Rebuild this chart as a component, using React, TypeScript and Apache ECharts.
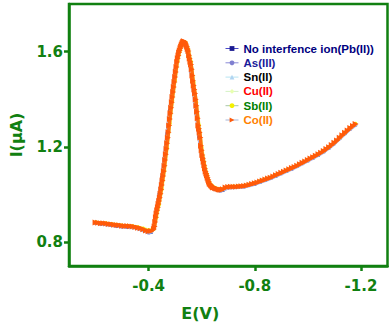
import React, { useEffect, useRef } from "react";
import * as echarts from "echarts";

// Co(II) trace: potentials (V) and currents (µA), denser around the peak
const coPotentials = [
  -0.2, -0.21, -0.22, -0.23, -0.24, -0.25, -0.26, -0.27, -0.28, -0.29,
  -0.3, -0.31, -0.32, -0.33, -0.34, -0.35, -0.36, -0.37, -0.38, -0.39,
  -0.4, -0.41, -0.42, -0.4225, -0.425, -0.4275, -0.43, -0.4325, -0.435, -0.4375,
  -0.44, -0.4425, -0.445, -0.4475, -0.45, -0.4525, -0.455, -0.4575, -0.46, -0.4625,
  -0.465, -0.4675, -0.47, -0.4725, -0.475, -0.4775, -0.48, -0.4825, -0.485, -0.4875,
  -0.49, -0.4925, -0.495, -0.4975, -0.5, -0.5025, -0.505, -0.5075, -0.51, -0.5125,
  -0.515, -0.5175, -0.52, -0.5225, -0.525, -0.5275, -0.53, -0.5325, -0.535, -0.5375,
  -0.54, -0.5425, -0.545, -0.5475, -0.55, -0.5525, -0.555, -0.5575, -0.56, -0.5625,
  -0.565, -0.5675, -0.57, -0.5725, -0.575, -0.5775, -0.58, -0.5825, -0.585, -0.5875,
  -0.59, -0.5925, -0.595, -0.5975, -0.6, -0.6025, -0.605, -0.6075, -0.61, -0.6125,
  -0.615, -0.6175, -0.62, -0.6225, -0.625, -0.6275, -0.63, -0.6325, -0.635, -0.6375,
  -0.64, -0.6425, -0.645, -0.65, -0.655, -0.66, -0.665, -0.67, -0.675, -0.68,
  -0.69, -0.7, -0.71, -0.72, -0.73, -0.74, -0.75, -0.76, -0.77, -0.78,
  -0.79, -0.8, -0.81, -0.82, -0.83, -0.84, -0.85, -0.86, -0.87, -0.88,
  -0.89, -0.9, -0.91, -0.92, -0.93, -0.94, -0.95, -0.96, -0.97, -0.98,
  -0.99, -1.0, -1.01, -1.02, -1.03, -1.04, -1.05, -1.06, -1.07, -1.08,
  -1.09, -1.1, -1.11, -1.12, -1.13, -1.14, -1.15, -1.16, -1.17, -1.18,
];

const coValues = [
  0.883, 0.882, 0.88, 0.879, 0.878, 0.876, 0.875, 0.873, 0.872, 0.871,
  0.869, 0.868, 0.868, 0.867, 0.866, 0.864, 0.861, 0.858, 0.854, 0.849,
  0.846, 0.847, 0.855, 0.866, 0.885, 0.905, 0.92, 0.934, 0.947, 0.96,
  0.973, 0.987, 1.003, 1.021, 1.04, 1.059, 1.078, 1.098, 1.121, 1.145,
  1.169, 1.192, 1.215, 1.238, 1.262, 1.29, 1.317, 1.341, 1.364, 1.387,
  1.41, 1.431, 1.452, 1.473, 1.494, 1.515, 1.536, 1.557, 1.572, 1.584,
  1.596, 1.605, 1.614, 1.622, 1.629, 1.635, 1.64, 1.644, 1.643, 1.64,
  1.635, 1.628, 1.62, 1.611, 1.603, 1.585, 1.571, 1.558, 1.546, 1.526,
  1.5, 1.478, 1.458, 1.441, 1.424, 1.399, 1.373, 1.348, 1.32, 1.29,
  1.276, 1.261, 1.24, 1.205, 1.186, 1.166, 1.152, 1.138, 1.123, 1.109,
  1.097, 1.088, 1.08, 1.071, 1.062, 1.054, 1.046, 1.043, 1.04, 1.037,
  1.034, 1.031, 1.03, 1.028, 1.025, 1.023, 1.021, 1.02, 1.02, 1.022,
  1.03, 1.032, 1.033, 1.033, 1.033, 1.034, 1.035, 1.036, 1.038, 1.041,
  1.044, 1.047, 1.051, 1.055, 1.059, 1.063, 1.067, 1.071, 1.076, 1.081,
  1.086, 1.091, 1.096, 1.101, 1.106, 1.111, 1.116, 1.121, 1.127, 1.133,
  1.139, 1.145, 1.151, 1.157, 1.163, 1.169, 1.176, 1.183, 1.191, 1.199,
  1.208, 1.217, 1.227, 1.238, 1.249, 1.259, 1.269, 1.279, 1.288, 1.296,
];

// Other traces: shared potentials (V)
const potentials = [
  -0.2, -0.22, -0.24, -0.26, -0.28, -0.3, -0.32, -0.34, -0.36, -0.38, -0.4,
  -0.41, -0.42, -0.43, -0.44, -0.45, -0.46, -0.47, -0.48, -0.49, -0.5,
  -0.51, -0.52, -0.53, -0.54, -0.55, -0.56, -0.57, -0.58, -0.59, -0.6,
  -0.61, -0.62, -0.63, -0.64, -0.65, -0.66, -0.67, -0.68,
  -0.7, -0.72, -0.74, -0.76, -0.78, -0.8, -0.82, -0.84, -0.86, -0.88,
  -0.9, -0.92, -0.94, -0.96, -0.98, -1.0, -1.02, -1.04, -1.06, -1.08,
  -1.1, -1.12, -1.14, -1.16, -1.18,
];

const pbValues = [
  0.88, 0.877, 0.874, 0.871, 0.868, 0.865, 0.864, 0.862, 0.857, 0.849, 0.84,
  0.842, 0.858, 0.94, 1.0, 1.072, 1.158, 1.255, 1.352, 1.44, 1.522,
  1.59, 1.626, 1.642, 1.626, 1.585, 1.518, 1.428, 1.338, 1.242, 1.158,
  1.105, 1.066, 1.038, 1.028, 1.022, 1.018, 1.016, 1.018,
  1.029, 1.03, 1.031, 1.033, 1.038, 1.044, 1.052, 1.06, 1.068, 1.078,
  1.088, 1.098, 1.108, 1.118, 1.13, 1.142, 1.154, 1.166, 1.18, 1.196,
  1.214, 1.235, 1.256, 1.276, 1.293,
];

const asValues = [
  0.881, 0.878, 0.875, 0.872, 0.869, 0.866, 0.865, 0.863, 0.858, 0.85, 0.842,
  0.844, 0.857, 0.933, 0.991, 1.061, 1.146, 1.242, 1.34, 1.43, 1.513,
  1.584, 1.622, 1.641, 1.629, 1.591, 1.527, 1.438, 1.35, 1.253, 1.167,
  1.111, 1.071, 1.041, 1.03, 1.024, 1.02, 1.018, 1.02,
  1.03, 1.031, 1.032, 1.034, 1.039, 1.045, 1.053, 1.061, 1.069, 1.079,
  1.089, 1.099, 1.109, 1.119, 1.131, 1.143, 1.155, 1.167, 1.181, 1.197,
  1.215, 1.236, 1.257, 1.277, 1.294,
];

const snValues = [
  0.882, 0.879, 0.877, 0.874, 0.871, 0.868, 0.867, 0.865, 0.86, 0.852, 0.844,
  0.845, 0.856, 0.927, 0.982, 1.051, 1.134, 1.228, 1.328, 1.42, 1.503,
  1.578, 1.618, 1.64, 1.632, 1.597, 1.537, 1.448, 1.362, 1.265, 1.177,
  1.117, 1.076, 1.044, 1.032, 1.026, 1.022, 1.019, 1.021,
  1.031, 1.032, 1.033, 1.035, 1.04, 1.046, 1.054, 1.062, 1.07, 1.08,
  1.09, 1.1, 1.11, 1.12, 1.132, 1.144, 1.156, 1.168, 1.182, 1.198,
  1.216, 1.237, 1.258, 1.278, 1.295,
];

const cuValues = [
  0.884, 0.881, 0.879, 0.876, 0.873, 0.87, 0.869, 0.867, 0.862, 0.856, 0.848,
  0.849, 0.854, 0.912, 0.965, 1.03, 1.11, 1.203, 1.306, 1.401, 1.486,
  1.566, 1.611, 1.639, 1.637, 1.607, 1.553, 1.466, 1.382, 1.285, 1.194,
  1.128, 1.083, 1.048, 1.036, 1.029, 1.024, 1.021, 1.023,
  1.033, 1.034, 1.035, 1.037, 1.042, 1.048, 1.056, 1.064, 1.072, 1.082,
  1.092, 1.102, 1.112, 1.122, 1.134, 1.146, 1.158, 1.17, 1.184, 1.2,
  1.218, 1.239, 1.26, 1.28, 1.297,
];

const sbValues = [
  0.885, 0.882, 0.88, 0.877, 0.874, 0.871, 0.87, 0.868, 0.864, 0.858, 0.851,
  0.851, 0.854, 0.905, 0.958, 1.022, 1.101, 1.195, 1.298, 1.394, 1.48,
  1.561, 1.609, 1.638, 1.639, 1.61, 1.558, 1.472, 1.388, 1.292, 1.2,
  1.132, 1.086, 1.05, 1.037, 1.03, 1.025, 1.022, 1.024,
  1.034, 1.035, 1.036, 1.038, 1.043, 1.049, 1.057, 1.065, 1.073, 1.083,
  1.093, 1.103, 1.113, 1.123, 1.135, 1.147, 1.159, 1.171, 1.185, 1.201,
  1.219, 1.24, 1.261, 1.281, 1.298,
];

const seriesNames = [
  "No interfence ion(Pb(II))",
  "As(III)",
  "Sn(II)",
  "Cu(II)",
  "Sb(II)",
  "Co(II)",
];

const yTicks = [0.8, 1.2, 1.6];
const xTicks = [-0.4, -0.8, -1.2];

const GREEN = "#118011";

function pairs(xs: number[], ys: number[]) {
  return xs.map((x, i) => [x, ys[i]]);
}

export default function App() {
  const ref = useRef<HTMLDivElement>(null);

  useEffect(() => {
    if (!ref.current) return;
    const chart = echarts.init(ref.current, undefined, { renderer: "svg" });

    const styles = [
      { line: "#a8a8e4", legendLine: "#4848c8", marker: "#1a1a90", symbol: "rect", size: 3, rotate: 0, width: 3.5 },
      { line: "#b8b8ec", legendLine: "#8a8ad8", marker: "#8080d0", symbol: "circle", size: 3, rotate: 0, width: 3 },
      { line: "#c4e6f4", legendLine: "#b8e4f2", marker: "#b0d4f2", symbol: "triangle", size: 3.5, rotate: 0, width: 3 },
      { line: "#dcf4cc", legendLine: "#d4f2c4", marker: "#e8ffb0", symbol: "diamond", size: 3.5, rotate: 0, width: 3 },
      { line: "#f0f060", legendLine: "#a8c8a8", marker: "#f4f000", symbol: "circle", size: 3.5, rotate: 0, width: 3 },
      { line: "#ff6a10", legendLine: "#a8b4d4", marker: "#ff5a0a", symbol: "triangle", size: 6, rotate: -90, width: 3.5 },
    ];
    const datasets = [
      pairs(potentials, pbValues),
      pairs(potentials, asValues),
      pairs(potentials, snValues),
      pairs(potentials, cuValues),
      pairs(potentials, sbValues),
      pairs(coPotentials, coValues),
    ];
    const legendColors = ["#000080", "#1a1a9a", "#000000", "#ff0000", "#008000", "#ff8000"];

    chart.setOption({
      animation: false,
      backgroundColor: "#ffffff",
      grid: {
        left: 60.5,
        right: 4.5,
        top: 4,
        bottom: 56,
        show: true,
        borderColor: GREEN,
        borderWidth: 2.5,
        backgroundColor: "transparent",
      },
      legend: {
        left: 225,
        top: 41.5,
        padding: 0,
        orient: "vertical",
        itemWidth: 13,
        itemHeight: 6,
        itemGap: 0.3,
        data: seriesNames.map((n, i) => ({
          name: n,
          textStyle: { color: legendColors[i] },
          lineStyle: { color: styles[i].legendLine, width: 1 },
        })),
        textStyle: {
          fontFamily: "Liberation Sans, Arial, sans-serif",
          fontWeight: "bold",
          fontSize: 11.5,
          lineHeight: 14,
        },
      },
      xAxis: {
        type: "value",
        inverse: true,
        min: -1.3,
        max: -0.1,
        name: "E(V)",
        nameLocation: "middle",
        nameGap: 39,
        nameTextStyle: {
          color: GREEN,
          fontFamily: "DejaVu Sans",
          fontWeight: "bold",
          fontSize: 16,
          padding: [0, 56, 0, 0],
        },
        axisLine: { show: true, lineStyle: { color: GREEN, width: 2.5 } },
        axisTick: {
          show: true,
          inside: false,
          length: 5,
          customValues: xTicks,
          lineStyle: { color: GREEN, width: 2.5 },
        },
        axisLabel: {
          customValues: xTicks,
          margin: 12,
          color: GREEN,
          fontFamily: "DejaVu Sans",
          fontWeight: "bold",
          fontSize: 15,
          formatter: (v: number) => v.toFixed(1),
        },
        splitLine: { show: false },
      },
      yAxis: {
        type: "value",
        min: 0.7,
        max: 1.8,
        name: "I(μA)",
        nameLocation: "middle",
        nameGap: 45,
        nameTextStyle: {
          color: GREEN,
          fontFamily: "DejaVu Sans",
          fontWeight: "bold",
          fontSize: 16,
        },
        axisLine: { show: true, lineStyle: { color: GREEN, width: 2.5 } },
        axisTick: {
          show: true,
          inside: false,
          length: 5,
          customValues: yTicks,
          lineStyle: { color: GREEN, width: 2.5 },
        },
        axisLabel: {
          customValues: yTicks,
          margin: 6,
          color: GREEN,
          fontFamily: "DejaVu Sans",
          fontWeight: "bold",
          fontSize: 15,
          formatter: (v: number) => v.toFixed(1),
        },
        splitLine: { show: false },
      },
      series: seriesNames.map((n, i) => ({
        name: n,
        type: "line",
        data: datasets[i],
        symbol: styles[i].symbol,
        symbolSize: styles[i].size,
        symbolRotate: styles[i].rotate,
        showAllSymbol: true,
        lineStyle: { color: styles[i].line, width: styles[i].width },
        itemStyle: { color: styles[i].marker },
        z: 2 + i,
      })),
    });

    return () => chart.dispose();
  }, []);

  return (
    <div
      ref={ref}
      style={{ position: "fixed", left: 0, top: 0, width: 392, height: 326 }}
    />
  );
}
